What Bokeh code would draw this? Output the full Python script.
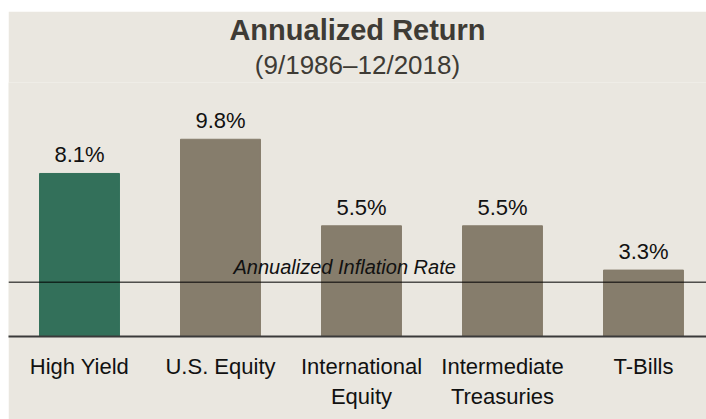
from bokeh.plotting import figure
from bokeh.models import Range1d, FixedTicker, Span, Label, Title, Spacer, ColumnDataSource
from bokeh.layouts import column, row
from bokeh.core.properties import value
from bokeh.embed import file_html
from bokeh.resources import INLINE

categories = ["High Yield", "U.S. Equity", "International\nEquity", "Intermediate\nTreasuries", "T-Bills"]
returns = [8.1, 9.8, 5.5, 5.5, 3.3]
labels = ["8.1%", "9.8%", "5.5%", "5.5%", "3.3%"]
colors = ["#33705A", "#867D6C", "#867D6C", "#867D6C", "#867D6C"]
inflation = 2.7

BG = "#EAE7E0"
FONT = "Liberation Sans"

xs = list(range(len(categories)))
src = ColumnDataSource(dict(x=xs, top=returns, label=labels, color=colors))

p = figure(width=698, height=408, output_backend="svg", toolbar_location=None,
           title=None,
           x_range=Range1d(-0.5035, 4.447), y_range=Range1d(0, 12.62),
           min_border_left=0, min_border_right=0, min_border_top=71, min_border_bottom=83)
p.background_fill_color = BG
p.border_fill_color = BG
p.outline_line_color = None
p.grid.visible = False
p.yaxis.visible = False

p.add_layout(Title(text="(9/1986–12/2018)", align="center", text_font=FONT,
                   text_font_size="26px", text_font_style="normal", text_color="#3E3B35",
                   standoff=5, offset=0), "above")
p.add_layout(Title(text="Annualized Return", align="center", text_font=FONT,
                   text_font_size="29px", text_font_style="bold", text_color="#3E3B35",
                   standoff=0, offset=0), "above")

p.vbar(x="x", top="top", bottom=0, width=0.567, color="color", source=src)

p.text(x="x", y="top", text="label", source=src, text_align="center", text_baseline="bottom",
       y_offset=-6, text_font=value(FONT), text_font_size="22px", text_color="#111111")

p.add_layout(Span(location=inflation, dimension="width", line_color="#000000", line_width=1))
p.add_layout(Label(x=1.092, y=inflation, text="Annualized Inflation Rate", text_align="left",
                   text_baseline="bottom", y_offset=4, text_font=FONT, text_font_size="20px",
                   text_font_style="italic", text_color="#111111"))

ax = p.xaxis[0]
ax.ticker = FixedTicker(ticks=xs)
ax.major_label_overrides = {i: c for i, c in zip(xs, categories)}
ax.major_tick_line_color = None
ax.minor_tick_line_color = None
ax.axis_line_color = "#3A3A3A"
ax.axis_line_width = 2
ax.major_label_text_font = FONT
ax.major_label_text_font_size = "22px"
ax.major_label_text_color = "#111111"
ax.major_label_standoff = 11

layout = column(Spacer(height=11), row(Spacer(width=8), p))
open("out.html", "w").write(file_html(layout, INLINE))
